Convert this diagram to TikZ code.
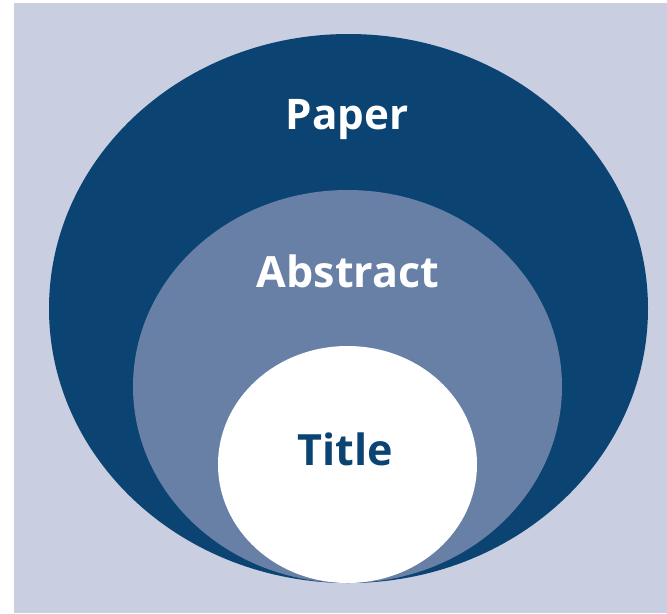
\documentclass[tikz,border=0pt]{standalone}
\usepackage{fontspec}
\setmainfont{Open Sans}
\definecolor{paperblue}{RGB}{11,68,114}
\definecolor{abstractblue}{RGB}{104,128,166}
\definecolor{backgray}{RGB}{201,206,224}
\begin{document}
\begin{tikzpicture}[x=0.02cm,y=-0.02cm,
	label/.style={font=\bfseries, anchor=base, inner sep=0pt}]
	
	\useasboundingbox (0,0) rectangle (667,613);
	\fill[white] (0,0) rectangle (667,613);
	\fill[backgray] (14,3) rectangle (667,613);
	
	% three nested ellipses, all touching at the bottom
	\fill[paperblue] (348.5,308.5) ellipse [x radius=299.5, y radius=274.5];
	\fill[abstractblue] (347.5,386.5) ellipse [x radius=214.5, y radius=196.5];
	\fill[white] (347.5,464.5) ellipse [x radius=129.5, y radius=118.5];
	
	\node[label, text=white, font=\bfseries\fontsize{24}{24}\selectfont] (paper) at (347,129) {Paper};
	\node[label, text=white, font=\bfseries\fontsize{24.5}{25}\selectfont] (abstract) at (348,287) {Abstract};
	\node[label, text=paperblue, font=\bfseries\fontsize{24.5}{25}\selectfont] (title) at (345,465) {Title};
	
\end{tikzpicture}
\end{document}
